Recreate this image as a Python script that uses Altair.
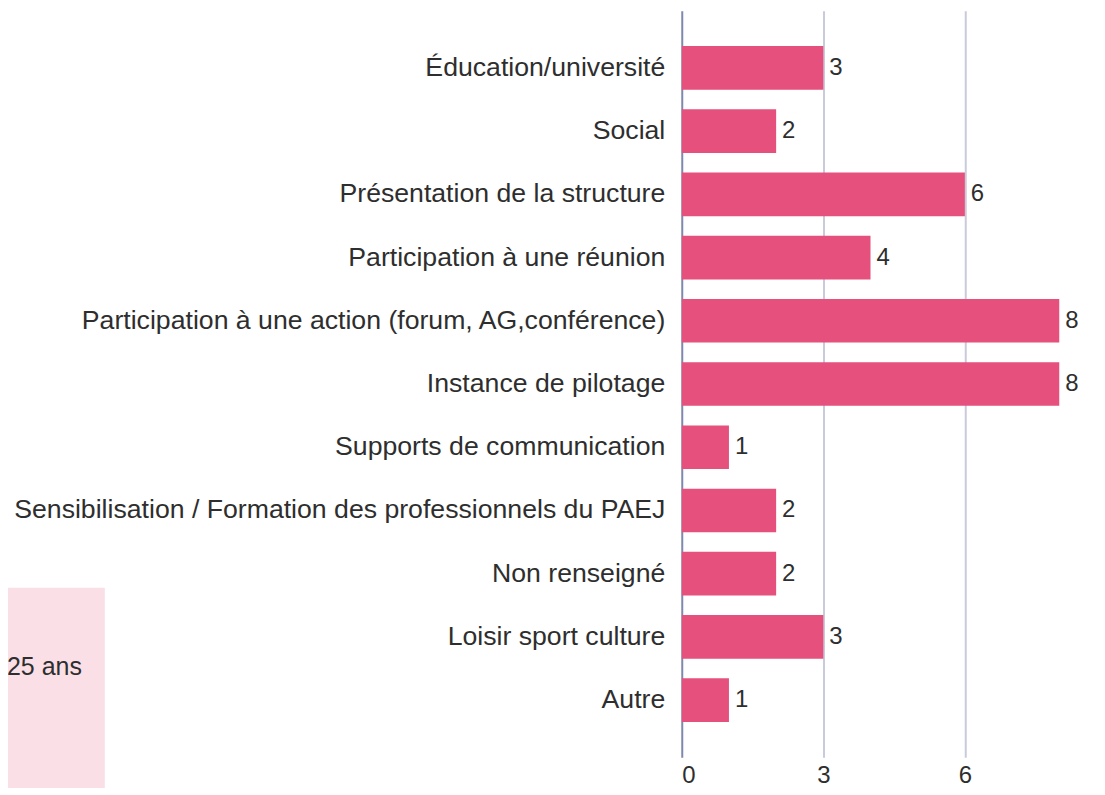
import altair as alt
import pandas as pd

categories = [
    "Éducation/université",
    "Social",
    "Présentation de la structure",
    "Participation à une réunion",
    "Participation à une action (forum, AG,conférence)",
    "Instance de pilotage",
    "Supports de communication",
    "Sensibilisation / Formation des professionnels du PAEJ",
    "Non renseigné",
    "Loisir sport culture",
    "Autre",
]
values = [3, 2, 6, 4, 8, 8, 1, 2, 2, 3, 1]
x_ticks = [0, 3, 6, 9]
side_note = ["25 ans"]

df = pd.DataFrame({"cat": categories, "val": values})

FONT = "Liberation Sans"
BAR = "#e5507d"
TXT = "#2e2e2e"
H = 748

y_enc = alt.Y(
    "cat:N",
    sort=categories,
    title=None,
    scale=alt.Scale(paddingInner=0.31, paddingOuter=0.56),
    axis=alt.Axis(
        labelFont=FONT,
        labelFontSize=26.7,
        labelColor=TXT,
        labelPadding=17,
        ticks=False,
        grid=False,
        domain=False,
        labelLimit=900,
    ),
)
x_enc = alt.X(
    "val:Q",
    title=None,
    scale=alt.Scale(domain=[0, 8.8], nice=False),
    axis=alt.Axis(
        values=x_ticks,
        labelFont=FONT,
        labelFontSize=24,
        labelColor=TXT,
        labelPadding=6,
        ticks=False,
        domain=False,
        grid=True,
        gridColor=alt.condition("datum.value === 0", alt.value("#7f88ad"), alt.value("#c9cbdb")),
        gridWidth=2,
    ),
)

bars = alt.Chart(df).mark_bar(color=BAR).encode(y=y_enc, x=x_enc)
labels = alt.Chart(df).mark_text(
    align="left", baseline="middle", dx=6, font=FONT, fontSize=24, color=TXT
).encode(y=y_enc, x=x_enc, text="val:Q")

# pink side panel partially visible at bottom-left (neighbouring element)
note_df = pd.DataFrame({"t": side_note})
box = alt.Chart(note_df).mark_rect(color="#fbdfe7").encode(
    x=alt.value(-683), x2=alt.value(-578), y=alt.value(578), y2=alt.value(800)
)
note = alt.Chart(note_df).mark_text(
    align="right", baseline="middle", font=FONT, fontSize=25, color=TXT
).encode(x=alt.value(-601), y=alt.value(658), text="t:N")

chart = (
    alt.layer(box, note, bars, labels)
    .properties(
        width=416,
        height=H,
        background="white",
        autosize=alt.AutoSizeParams(type="none"),
        padding={"left": 675, "top": 2, "right": 0, "bottom": 30},
    )
    .configure_axis(domain=False)
    .configure_view(stroke="transparent", strokeWidth=0)
)

chart.save("out.html", embed_options={"renderer": "svg", "actions": False})
